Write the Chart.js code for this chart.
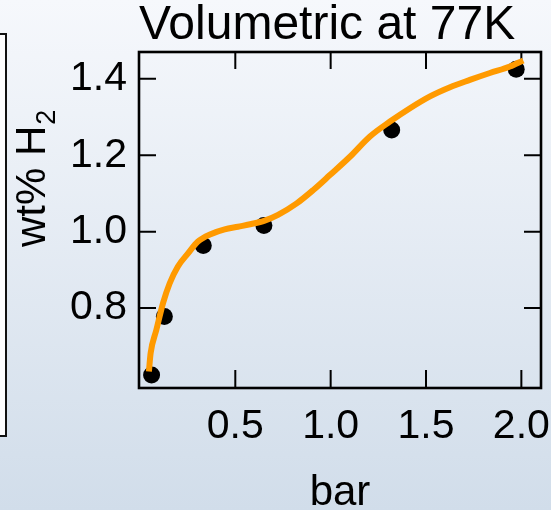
<!DOCTYPE html>
<html>
<head>
<meta charset="utf-8">
<title>Volumetric at 77K</title>
<script src="https://cdn.jsdelivr.net/npm/chart.js@4/dist/chart.umd.min.js"></script>
<style>
  html, body { margin: 0; padding: 0; background: #e4ebf4; }
  #wrap { width: 551px; height: 510px; position: relative; }
  canvas { display: block; }
</style>
</head>
<body>
<div id="wrap"><canvas id="chart" width="551" height="510"></canvas></div>
<script>
// Measured uptake (black markers)
const pressureBar = [0.061, 0.128, 0.332, 0.650, 1.320, 1.973];
const uptakeWt    = [0.625, 0.778, 0.964, 1.016, 1.266, 1.425];

// Fitted isotherm (orange curve)
const fitPressure = [0.047, 0.056, 0.086, 0.121, 0.156, 0.199, 0.252, 0.304, 0.374, 0.444,
                     0.514, 0.584, 0.654, 0.724, 0.822, 0.909, 0.996, 1.101, 1.206, 1.311,
                     1.416, 1.521, 1.626, 1.730, 1.835, 1.940, 2.010];
const fitUptake   = [0.634, 0.682, 0.743, 0.813, 0.865, 0.909, 0.943, 0.974, 0.994, 1.006,
                     1.013, 1.020, 1.029, 1.044, 1.074, 1.109, 1.148, 1.196, 1.249, 1.288,
                     1.323, 1.354, 1.378, 1.397, 1.415, 1.432, 1.448];

// Axis ticks
const xTickValues = [0.5, 1.0, 1.5, 2.0];
const yTickValues = [0.8, 1.0, 1.2, 1.4];

const FONT = "'Liberation Sans', Arial, Helvetica, sans-serif";

const toXY = (xs, ys) => xs.map((x, i) => ({ x: x, y: ys[i] }));

// Slide background gradient and the edge of the neighbouring panel
const backdrop = {
  id: 'backdrop',
  beforeDraw(chart) {
    const { ctx, width, height } = chart;
    ctx.save();
    const g = ctx.createLinearGradient(0, 0, 0, height);
    g.addColorStop(0, '#f6f8fc');
    g.addColorStop(1, '#d1ddea');
    ctx.fillStyle = g;
    ctx.fillRect(0, 0, width, height);
    ctx.fillStyle = '#fdfdfe';
    ctx.strokeStyle = '#111';
    ctx.lineWidth = 2;
    ctx.fillRect(-4, 34, 10, 402);
    ctx.strokeRect(-4, 34, 10, 402);
    ctx.restore();
  }
};

// Closed frame with inward tick marks on all four sides
const frameTicks = {
  id: 'frameTicks',
  beforeDatasetsDraw(chart) {
    const { ctx, chartArea: a, scales: { x, y } } = chart;
    ctx.save();
    ctx.strokeStyle = '#000';
    ctx.lineWidth = 2;
    ctx.beginPath();
    xTickValues.forEach(v => {
      const px = x.getPixelForValue(v);
      ctx.moveTo(px, a.bottom); ctx.lineTo(px, a.bottom - 18);
      ctx.moveTo(px, a.top);    ctx.lineTo(px, a.top + 17);
    });
    yTickValues.forEach(v => {
      const py = y.getPixelForValue(v);
      ctx.moveTo(a.left, py);  ctx.lineTo(a.left + 17, py);
      ctx.moveTo(a.right, py); ctx.lineTo(a.right - 17, py);
    });
    ctx.stroke();
    ctx.lineWidth = 2.6;
    ctx.strokeRect(a.left, a.top, a.right - a.left, a.bottom - a.top);
    ctx.restore();
  }
};

// Vertical axis title with subscript
const yTitle = {
  id: 'yTitle',
  afterDraw(chart) {
    const { ctx } = chart;
    ctx.save();
    ctx.translate(45, 247);
    ctx.rotate(-Math.PI / 2);
    ctx.fillStyle = '#000';
    ctx.textBaseline = 'alphabetic';
    ctx.textAlign = 'left';
    ctx.font = '42px ' + FONT;
    const main = 'wt% H';
    ctx.fillText(main, 0, 0);
    const w = ctx.measureText(main).width;
    ctx.font = '27px ' + FONT;
    ctx.fillText('2', w + 1, 10);
    ctx.restore();
  }
};

new Chart(document.getElementById('chart'), {
  type: 'scatter',
  data: {
    datasets: [
      {
        label: 'fit',
        data: toXY(fitPressure, fitUptake),
        showLine: true,
        borderColor: '#ff9a00',
        borderWidth: 6,
        pointRadius: 0,
        cubicInterpolationMode: 'monotone',
        clip: false
      },
      {
        label: 'measured',
        data: toXY(pressureBar, uptakeWt),
        showLine: false,
        pointRadius: 8.5,
        pointBackgroundColor: '#000',
        pointBorderWidth: 0,
        clip: false
      }
    ]
  },
  options: {
    responsive: false,
    animation: false,
    devicePixelRatio: 1,
    layout: { padding: { left: 0, right: 10, top: 0, bottom: 0 } },
    plugins: {
      legend: { display: false },
      tooltip: { enabled: false },
      title: {
        display: true,
        text: 'Volumetric at 77K',
        align: 'start',
        fullSize: false,
        color: '#000',
        font: { family: FONT, size: 48, lineHeight: 1, weight: 'normal' },
        padding: { top: 2, bottom: 2 }
      }
    },
    scales: {
      x: {
        type: 'linear',
        min: -0.005,
        max: 2.103,
        grid: { display: false, drawTicks: false },
        border: { display: false },
        afterBuildTicks: s => { s.ticks = xTickValues.map(v => ({ value: v })); },
        afterFit: s => { s.height = 122; s.paddingLeft = 0; s.paddingRight = 0; },
        ticks: {
          color: '#000',
          font: { family: FONT, size: 41 },
          padding: 14,
          maxRotation: 0,
          autoSkip: false,
          callback: v => Number(v).toFixed(1)
        },
        title: {
          display: true,
          text: 'bar',
          color: '#000',
          font: { family: FONT, size: 42, lineHeight: 1 },
          padding: { top: 0, bottom: -4 }
        }
      },
      y: {
        type: 'linear',
        min: 0.591,
        max: 1.470,
        grid: { display: false, drawTicks: false },
        border: { display: false },
        afterBuildTicks: s => { s.ticks = yTickValues.map(v => ({ value: v })); },
        afterFit: s => { s.width = 139; s.paddingTop = 0; s.paddingBottom = 0; },
        ticks: {
          color: '#000',
          font: { family: FONT, size: 41 },
          padding: 12,
          autoSkip: false,
          callback: v => Number(v).toFixed(1)
        }
      }
    }
  },
  plugins: [backdrop, frameTicks, yTitle]
});
</script>
</body>
</html>
